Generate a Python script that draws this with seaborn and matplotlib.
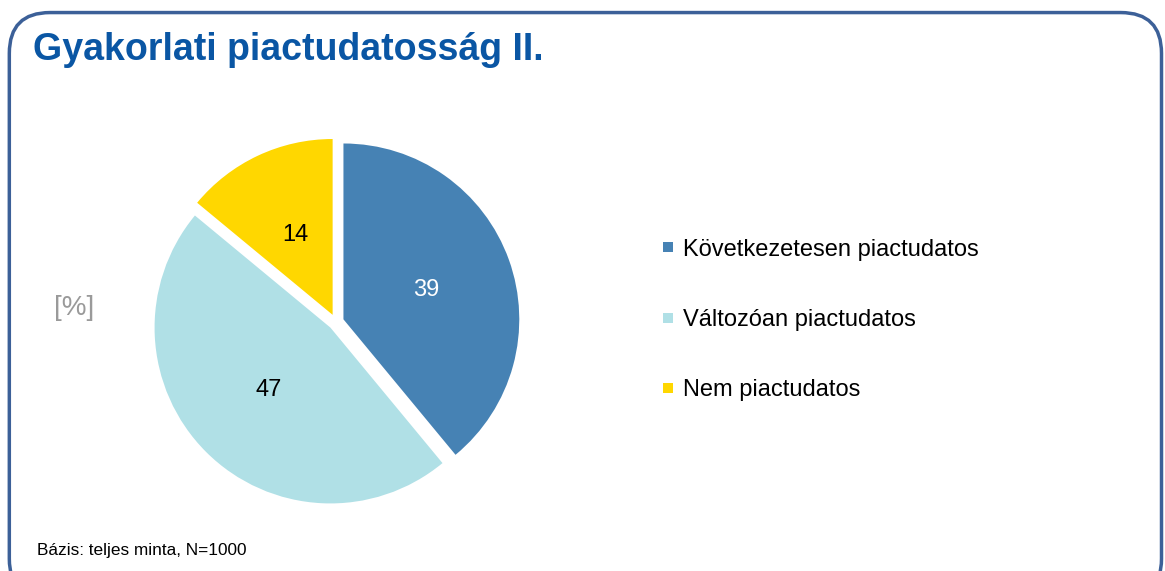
import matplotlib
matplotlib.use("Agg")
import matplotlib.pyplot as plt
from matplotlib.patches import FancyBboxPatch
from matplotlib.lines import Line2D
import seaborn as sns

# ----------------------
# Gyakorlati piactudatosság II. - pie chart
# ----------------------

categories = ["Következetesen piactudatos", "Változóan piactudatos", "Nem piactudatos"]
values = [39, 47, 14]
colors = ["#4682B4", "#B0E0E6", "#FFD700"]
label_colors = ["white", "black", "black"]

sns.set_theme(style="white")
plt.rcParams["font.family"] = ["Liberation Sans", "DejaVu Sans"]

fig = plt.figure(figsize=(11.65, 5.71), dpi=100)

# rounded frame around the slide
frame = FancyBboxPatch((0.008, -0.05), 0.989, 1.028, transform=fig.transFigure,
                       boxstyle="round,pad=0,rounding_size=0.035", mutation_aspect=1165 / 571,
                       fill=False, edgecolor="#3C6098", linewidth=2.5)
fig.patches.append(frame)

fig.text(33 / 1165, 1 - 60 / 571, "Gyakorlati piactudatosság II.", fontsize=27,
         fontweight="bold", color="#0A56A4", ha="left", va="baseline")
fig.text(74 / 1165, 1 - 308 / 571, "[%]", fontsize=20, color="#9A9A9A", ha="center", va="center")
fig.text(37 / 1165, 1 - 550 / 571, "Bázis: teljes minta, N=1000", fontsize=12.4,
         color="black", ha="left", va="center")

ax = fig.add_axes([125 / 1165, 38 / 571, 422 / 1165, 422 / 571])
wedges, texts, autotexts = ax.pie(values, colors=colors, startangle=90, counterclock=False,
                                  explode=[0.045] * len(values), pctdistance=0.5,
                                  autopct=lambda p: f"{round(p)}",
                                  wedgeprops=dict(linewidth=0))
for t, c in zip(autotexts, label_colors):
    t.set_color(c)
    t.set_fontsize(17)
ax.set_xlim(-1.2, 1.2)
ax.set_ylim(-1.2, 1.2)
ax.set_aspect("equal")
ax.axis("off")

handles = [Line2D([], [], marker="s", linestyle="none", markersize=7.5, markerfacecolor=c,
                  markeredgewidth=0) for c in colors]
leg = fig.legend(handles, categories, loc="center left", bbox_to_anchor=(637 / 1165, 1 - 320 / 571),
                 frameon=False, fontsize=17, labelspacing=2.05, handlelength=0.8, handletextpad=0.25)
for t in leg.get_texts():
    t.set_color("black")

fig.savefig("out.png", dpi=100)
